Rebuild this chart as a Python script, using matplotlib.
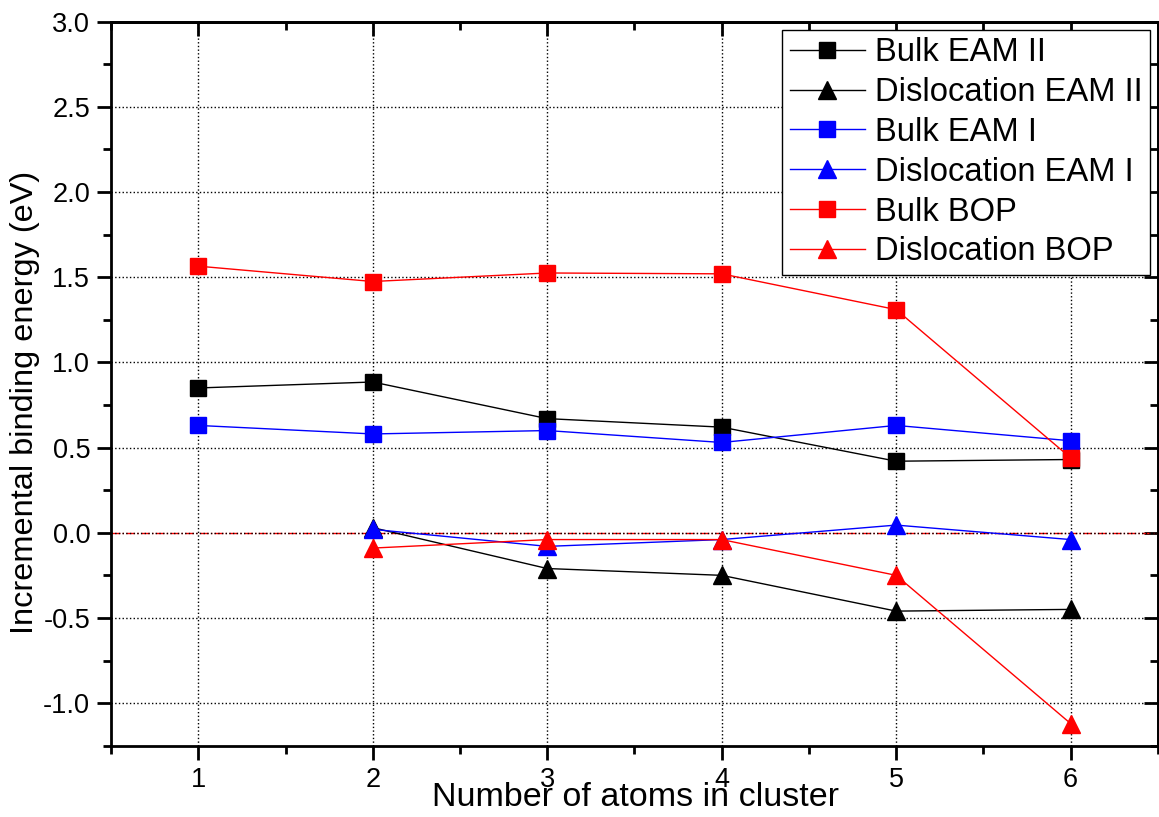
import matplotlib.pyplot as plt
from matplotlib.ticker import MultipleLocator, NullFormatter

plt.rcParams['font.family'] = ['Liberation Sans', 'DejaVu Sans']

x_bulk = [1, 2, 3, 4, 5, 6]
x_disl = [2, 3, 4, 5, 6]

bulk_eam2 = [0.85, 0.885, 0.67, 0.62, 0.42, 0.43]
disl_eam2 = [0.03, -0.21, -0.25, -0.46, -0.45]
bulk_eam1 = [0.63, 0.58, 0.60, 0.53, 0.63, 0.54]
disl_eam1 = [0.02, -0.08, -0.04, 0.045, -0.04]
bulk_bop = [1.565, 1.475, 1.525, 1.52, 1.31, 0.44]
disl_bop = [-0.09, -0.04, -0.04, -0.25, -1.12]

fig = plt.figure(figsize=(11.59, 8.17), dpi=100)
ax = fig.add_axes([0.0958, 0.0873, 0.9032, 0.8861])

ax.axhline(0, color='red', lw=1, ls='-.', zorder=1)

series = [
    (x_bulk, bulk_eam2, 'black', 's', 'Bulk EAM II'),
    (x_disl, disl_eam2, 'black', '^', 'Dislocation EAM II'),
    (x_bulk, bulk_eam1, 'blue', 's', 'Bulk EAM I'),
    (x_disl, disl_eam1, 'blue', '^', 'Dislocation EAM I'),
    (x_bulk, bulk_bop, 'red', 's', 'Bulk BOP'),
    (x_disl, disl_bop, 'red', '^', 'Dislocation BOP'),
]
for xs, ys, c, m, lab in series:
    ax.plot(xs, ys, color=c, marker=m, lw=1, label=lab,
            markersize=11 if m == 's' else 13, zorder=3)

ax.set_xlim(0.5, 6.5)
ax.set_ylim(-1.25, 3.0)
ax.xaxis.set_major_locator(MultipleLocator(1))
ax.xaxis.set_minor_locator(MultipleLocator(0.5))
ax.yaxis.set_major_locator(MultipleLocator(0.5))
ax.yaxis.set_minor_locator(MultipleLocator(0.25))
ax.yaxis.set_major_formatter(lambda v, p: f'{v:.1f}')

ax.grid(True, which='major', color='black', ls=':', lw=1, zorder=0)
for s in ax.spines.values():
    s.set_linewidth(2)

ax.tick_params(which='both', direction='out', width=2, labelsize=19.5)
ax.tick_params(which='major', length=10, pad=5)
ax.tick_params(which='minor', length=5.5)

# inward ticks on top and right
top = ax.secondary_xaxis('top')
right = ax.secondary_yaxis('right')
top.xaxis.set_major_locator(MultipleLocator(1))
top.xaxis.set_minor_locator(MultipleLocator(0.5))
right.yaxis.set_major_locator(MultipleLocator(0.5))
right.yaxis.set_minor_locator(MultipleLocator(0.25))
for sec in (top, right):
    sec.tick_params(which='both', direction='in', width=2, labelsize=0)
    sec.tick_params(which='major', length=10)
    sec.tick_params(which='minor', length=5.5)
    for s in sec.spines.values():
        s.set_linewidth(2)
top.xaxis.set_major_formatter(NullFormatter())
right.yaxis.set_major_formatter(NullFormatter())

fig.text(0.548, 0.0135, 'Number of atoms in cluster', fontsize=24.5,
         ha='center', va='baseline')
fig.text(0.0216, 0.507, 'Incremental binding energy (eV)', fontsize=23.4,
         ha='center', va='center', rotation=90)

leg = ax.legend(loc='upper right', fontsize=23.6, frameon=True, fancybox=False,
                edgecolor='black', framealpha=1, handlelength=2.3,
                labelspacing=0.27, borderaxespad=0.25, handletextpad=0.3,
                borderpad=0.22)
leg.get_frame().set_linewidth(1)

fig.savefig('out.png', dpi=100)
